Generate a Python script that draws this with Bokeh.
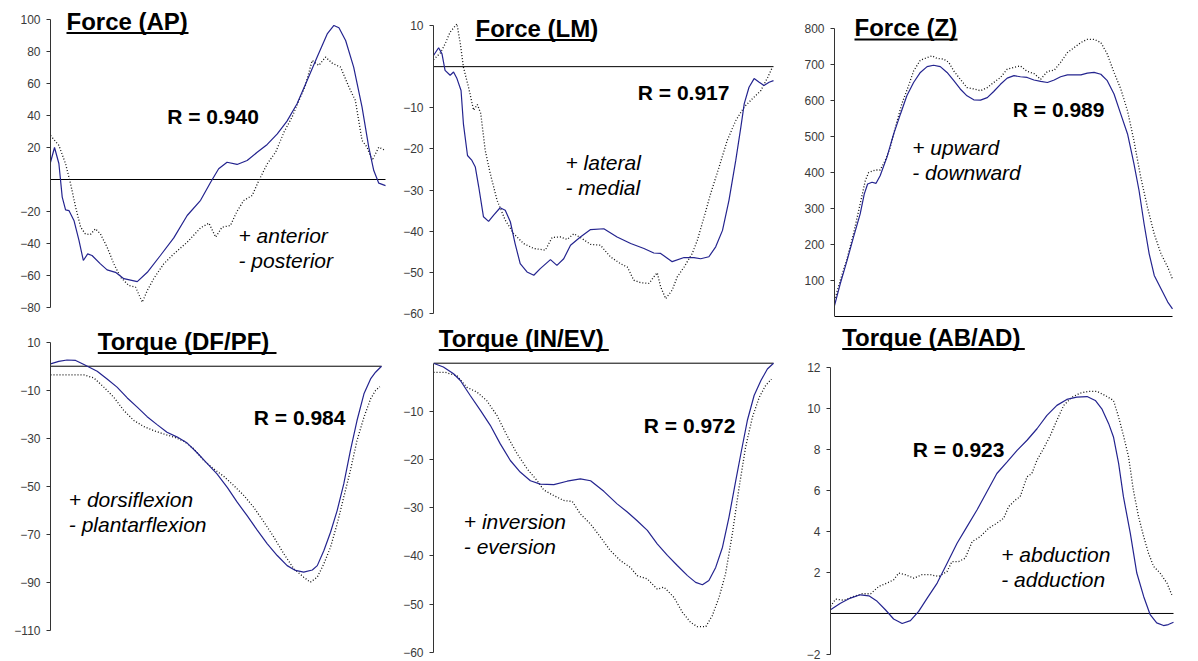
from bokeh.plotting import figure
from bokeh.models import Range1d, FixedTicker, Label, BoxAnnotation
from bokeh.layouts import row, column
from bokeh.embed import file_html
from bokeh.resources import INLINE

# ---------------- data (x = % of stance) ----------------
AP_blue_x = [0, 1.2, 2.5, 3.5, 4.5, 5.5, 7, 8.5, 9.8, 11.1, 12.4, 14.9, 16.9, 19.4, 21.9, 25.9, 28.9, 32.8, 36.8, 40.8,
             44.8, 47.8, 50.2, 52.7, 55.7, 58.7, 61.7, 64.7, 67.7, 70.6, 73.6, 76.6, 79.6, 82.6, 84.6, 86.1, 88.1, 90.5, 93, 95,
             96.5, 98, 100]
AP_blue_y = [10.8, 20, 10, -11, -19, -19.4, -25.6, -38, -50.6, -46.5, -47.5, -52.7, -56.5, -58, -62, -63.8, -58, -47.5, -36.5, -22.5,
             -13, -1.7, 6.7, 10.8, 9.4, 11.9, 17, 21.9, 28.5, 36.5, 47.3, 61.9, 76.5, 91, 96.3, 94.8, 86.9, 70.2, 45.2, 20.2,
             5.6, -2.3, -3.8]
AP_dot_x = [0, 2.5, 4.5, 6, 7.5, 9, 10.4, 11.9, 13.4, 14.9, 16.9, 18.9, 20.9, 23.4, 25.4, 27.4, 28.9, 30.8, 33.8, 36.8,
            40.8, 44.8, 47.3, 49.3, 51.2, 53.7, 55.7, 57.7, 60.2, 62.2, 64.7, 67.2, 69.7, 72.1, 74.6, 76.1, 78.1, 80.1, 82.1, 84.1,
            86.6, 89.1, 91, 93, 94.5, 96, 98, 100]
AP_dot_y = [27.5, 21.3, 9.8, -2.7, -17.3, -29.8, -34, -34.4, -30.8, -34, -42.3, -52.7, -61, -66.3, -67.3, -76.7, -69.4, -62, -52.7, -46.5,
            -39.2, -30.2, -27.3, -36, -29.8, -28.8, -19.8, -13.1, -10, -0.6, 9.8, 17.1, 29.6, 39, 51.5, 58.8, 74.4, 71.3, 76.5, 72.7,
            70.2, 57.7, 49.4, 24.4, 20.2, 11.9, 20.2, 18.1]

LM_blue_x = [0, 1.5, 2.5, 3.4, 4.9, 5.9, 6.9, 8.1, 8.8, 10, 11.3, 12.3, 13.3, 14.7, 16.2, 17.7, 19.6, 21.1, 22.6, 24,
             25.5, 27.5, 29.5, 31.4, 34.4, 36.3, 38.3, 40.3, 43.2, 46.2, 50.1, 54, 58, 61.9, 64.8, 66.8, 70.2, 73.7, 76.6, 78.6,
             81, 83, 85, 86.9, 88.9, 90.4, 91.4, 92.8, 94.3, 95.8, 97.2, 98.7, 100]
LM_blue_y = [2.7, 4.6, 3.1, -0.9, -2.1, -1.3, -2.9, -5.8, -13.9, -21.6, -22.8, -24.4, -29.2, -36.5, -37.6, -36.1, -34.3, -34.9, -37.7, -43,
             -47.9, -49.9, -50.7, -49.1, -46.9, -48.3, -46.7, -43.4, -41.4, -39.6, -39.4, -41.4, -43, -44.2, -45.3, -45.4, -47.4, -46.4, -46.4, -46.7,
             -46.2, -43.8, -39.8, -32.5, -22.8, -14.7, -9, -5, -2.9, -3.8, -4.6, -3.8, -3.4]
LM_dot_x = [0, 2, 3.4, 4.9, 6.9, 7.9, 8.8, 10.3, 11.8, 12.9, 13.9, 15.2, 16.7, 18.7, 21.1, 23.6, 26.5, 29.5, 32.9, 34.9,
            37.3, 39.3, 41.3, 43.7, 46.2, 49.1, 52, 55, 57, 58.9, 60.9, 63.4, 64.8, 65.8, 66.8, 68.3, 70.2, 71.7, 73.7, 76.1,
            77.6, 79.6, 81.5, 84, 86.4, 88.9, 91.4, 93.8, 96.3, 98.3, 99.7]
LM_dot_y = [1.7, 3.3, 5.5, 8.4, 10.4, 5.5, -0.1, -5, -10.6, -9.2, -11.4, -20.3, -26, -32.5, -37.3, -40.6, -43, -44.2, -44.6, -41.5,
            -41.4, -42, -40.6, -41.8, -43.2, -43.4, -46.2, -47.9, -48.7, -51.9, -52.5, -52.7, -51.1, -50.1, -53.5, -56.4, -54.3, -51.1, -48.7, -45.4,
            -42.2, -36.5, -30.9, -24.4, -17.9, -13.1, -9.8, -7.8, -5.8, -2.6, -0.1]

Z_blue_x = [0, 1.7, 3.7, 5.6, 7.6, 8.8, 9.8, 11.1, 12.3, 13.5, 15.5, 17.5, 19.5, 21.4, 23.4, 25.4, 27.4, 29.3, 31.3, 33.3,
            35.3, 37.2, 39.2, 41.2, 43.2, 45.2, 47.1, 49.1, 51.1, 53.1, 55, 57, 59, 61, 63, 65, 66.9, 68.9, 70.9, 72.9,
            74.8, 76.8, 78.8, 80.7, 82.7, 84.7, 86.7, 88.6, 90.1, 91.6, 93.1, 94.6, 96.6, 98.6, 100]
Z_blue_y = [30, 91, 155, 220, 285, 340, 368, 373, 370, 391, 442, 507, 562, 613, 650, 678, 694, 698, 694, 678,
            655, 632, 613, 602, 601, 608, 625, 645, 662, 669, 666, 664, 657, 653, 650, 657, 666, 671, 671, 671,
            676, 678, 673, 655, 618, 562, 507, 424, 350, 257, 174, 114, 77, 40, 21]
Z_dot_x = [0, 1.7, 3.7, 5.6, 7.6, 9.1, 10.1, 12.1, 13.5, 15, 16.5, 18, 19.9, 21.9, 23.4, 25.4, 27.4, 28.9, 30.3, 32.3,
           33.8, 35.3, 37.2, 39.2, 41.2, 43.2, 45.2, 47.1, 49.1, 51.1, 53.1, 55, 57, 59, 61, 63, 65, 66.9, 68.9, 70.9,
           72.9, 74.8, 76.8, 78.8, 80.7, 82.7, 84.7, 86.7, 88.6, 90.6, 92.6, 94.6, 96.6, 98.6, 100]
Z_dot_y = [44, 100, 160, 229, 313, 377, 400, 407, 407, 433, 470, 525, 590, 641, 682, 712, 719, 724, 717, 715,
           706, 682, 659, 636, 632, 627, 636, 650, 664, 687, 692, 696, 681, 675, 659, 681, 684, 706, 733, 747,
           761, 770, 770, 761, 729, 678, 632, 571, 488, 387, 303, 229, 174, 137, 104]

DF_blue_x = [0, 2.5, 5, 7.6, 10.1, 14.1, 17.1, 20.1, 23.2, 26.2, 29.2, 32.2, 35.2, 38.3, 41.3, 44.3, 47.3, 50.3, 53.4, 56.4,
             59.4, 62.4, 65.5, 68.5, 71.5, 74, 76.5, 79.1, 80.6, 82.6, 84.6, 86.6, 88.6, 90.6, 92.6, 94.7, 96.7, 98.2, 100]
DF_blue_y = [1, 2, 2.6, 2.4, 0.7, -2.1, -5.3, -8.7, -13.2, -17, -21, -24.3, -27.5, -29.5, -32, -36, -40.4, -44.8, -50.4, -56.6,
             -62.2, -68.1, -73.9, -78.8, -83, -85, -85.7, -84.8, -83, -76.7, -69.1, -60.1, -49, -35.1, -22.6, -11.5, -5.3, -2.5, 0]
DF_dot_x = [0, 5, 10.1, 13.1, 16.1, 19.1, 22.2, 25.2, 28.2, 31.2, 34.2, 37.3, 40.3, 43.3, 46.3, 49.3, 52.4, 55.4, 58.4, 61.4,
            64.5, 67.5, 70.5, 73.5, 76.5, 78.5, 80.6, 82.6, 84.6, 86.6, 88.6, 90.6, 92.6, 94.7, 96.7, 98.2, 99.5]
DF_dot_y = [-3.6, -3.6, -3.6, -4.9, -8.7, -12.9, -18.5, -22.6, -25.1, -26.8, -28.2, -29.5, -31.2, -34.4, -39.2, -42.7, -45.9, -49.7, -53.8, -58.7,
            -64.9, -71.2, -78.1, -84.3, -87.8, -89.9, -87.8, -82.2, -75.3, -65.6, -54.5, -43.4, -30.9, -21.2, -13.6, -10.1, -8.5]

IE_blue_x = [0, 2.9, 5.9, 7.9, 10.8, 13.8, 16.7, 19.6, 22.6, 25.5, 28.5, 31.4, 35.4, 39.3, 43.2, 46.2, 50.1, 54, 57, 59.9,
             62.9, 65.8, 68.8, 71.7, 74.7, 77.1, 79.1, 81, 83, 85, 86.9, 88.9, 90.4, 92.3, 94.3, 96.3, 98.2, 100]
IE_blue_y = [0, -0.8, -2.2, -3.6, -6.7, -9.8, -12.9, -16.7, -20.2, -22.6, -24.4, -25.1, -25.2, -24.5, -24, -24.4, -26.6, -29.2, -30.9, -32.7,
             -34.7, -37.5, -39.9, -42, -44.1, -45.5, -46, -45.1, -42.4, -38.2, -32, -24.4, -18.8, -11.9, -6.7, -3.6, -1.2, 0]
IE_dot_x = [0, 3.4, 6.9, 9.8, 12.8, 15.7, 18.7, 21.6, 24.6, 27.5, 30.5, 32.4, 35.4, 38.3, 40.8, 43.2, 46.2, 49.1, 52, 55,
            57.9, 59.9, 62.9, 65.8, 67.8, 70.7, 73.2, 75.6, 77.6, 80.1, 82, 84, 85.9, 87.9, 89.9, 91.8, 93.8, 95.8, 97.7, 99.4]
IE_dot_y = [-1.9, -1.9, -2.6, -5, -6, -7.8, -10.9, -15, -18.8, -21.9, -24.4, -26.3, -27.5, -28.5, -28.7, -31.3, -33.4, -36.1, -38.9, -41,
            -42.4, -44.1, -44.8, -46.9, -46.5, -48.6, -51.7, -53.8, -54.7, -54.7, -52.4, -48.6, -43.7, -35.4, -25.7, -17.4, -11.2, -7.1, -4.6, -3.3]

AA_blue_x = [0, 2.9, 5.8, 8.7, 11.2, 13.6, 16, 18.4, 20.9, 23.3, 25.7, 28.2, 31.1, 34, 36.9, 39.8, 42.7, 45.6, 48.5, 51.5,
             54.4, 57.3, 60.2, 63.1, 66, 68.9, 71.8, 74.8, 77.2, 79.1, 81.1, 82.5, 84, 85.4, 87.4, 89.3, 91.3, 93.2, 95.1, 97.1,
             98.5, 100]
AA_blue_y = [0.18, 0.5, 0.75, 0.91, 0.86, 0.59, 0.18, -0.27, -0.49, -0.35, 0.1, 0.75, 1.48, 2.45, 3.42, 4.23, 5.04, 5.93, 6.82, 7.39,
             7.95, 8.44, 9, 9.65, 10.14, 10.43, 10.54, 10.57, 10.38, 9.97, 9.25, 8.6, 7.31, 5.69, 3.91, 1.97, 0.83, -0.06, -0.46, -0.59,
             -0.54, -0.43]
AA_dot_x = [0, 1.5, 3.9, 6.3, 9.2, 11.7, 14.1, 16.5, 18.4, 19.9, 21.8, 24.3, 26.7, 29.1, 31.6, 34, 35.4, 37.4, 39.3, 41.3,
            43.7, 46.1, 48.5, 50.5, 51.9, 53.9, 55.3, 57.3, 58.7, 60.2, 62.1, 64.1, 66, 68, 70.4, 72.8, 75.2, 77.7, 80.1, 82.5,
            84, 85.4, 86.9, 88.3, 89.8, 91.3, 92.7, 94.2, 96.1, 98.1, 99.5]
AA_dot_y = [0.35, 0.7, 0.64, 0.8, 0.96, 0.96, 1.32, 1.48, 1.64, 1.97, 1.89, 1.72, 1.89, 1.89, 1.8, 2.05, 2.53, 2.53, 2.7, 3.5,
            3.75, 4.15, 4.4, 4.64, 5.2, 5.53, 5.69, 6.66, 6.82, 7.47, 8.03, 8.68, 9.41, 10.14, 10.54, 10.74, 10.82, 10.82, 10.62, 10.38,
            9.57, 8.68, 7.63, 6.01, 4.72, 3.75, 2.94, 2.29, 1.97, 1.48, 0.91]

titles = ["Force (AP)", "Force (LM)", "Force (Z)", "Torque (DF/PF)", "Torque (IN/EV)", "Torque (AB/AD)"]
r_texts = ["R = 0.940", "R = 0.917", "R = 0.989", "R = 0.984", "R = 0.972", "R = 0.923"]
ann_plus = ["+ anterior", "+ lateral", "+ upward", "+ dorsiflexion", "+ inversion", "+ abduction"]
ann_minus = ["- posterior", "- medial", "- downward", "- plantarflexion", "- eversion", "- adduction"]
y_ticks = [
    [-80, -60, -40, -20, 20, 40, 60, 80, 100],
    [-60, -50, -40, -30, -20, -10, 10],
    [100, 200, 300, 400, 500, 600, 700, 800],
    [-110, -90, -70, -50, -30, -10, 10],
    [-60, -50, -40, -30, -20, -10],
    [-2, 2, 4, 6, 8, 10, 12],
]
y_limits = [(-80, 100), (-60, 10), (0, 800), (-110, 10), (-60, 0), (-2, 12)]
series = [
    (AP_blue_x, AP_blue_y, AP_dot_x, AP_dot_y),
    (LM_blue_x, LM_blue_y, LM_dot_x, LM_dot_y),
    (Z_blue_x, Z_blue_y, Z_dot_x, Z_dot_y),
    (DF_blue_x, DF_blue_y, DF_dot_x, DF_dot_y),
    (IE_blue_x, IE_blue_y, IE_dot_x, IE_dot_y),
    (AA_blue_x, AA_blue_y, AA_dot_x, AA_dot_y),
]
for bx, by_, dx, dy in series:
    assert len(bx) == len(by_), (len(bx), len(by_))
    assert len(dx) == len(dy), (len(dx), len(dy))

# ---------------- layout (page pixel positions) ----------------
# x0, y0, W, H : figure box; ax, xr : axis x / data right; ty, by : axis top / bottom
geom = [
    dict(x0=0, y0=0, W=400, H=321, ax=50, xr=385, ty=19, by=307,
         title=(66, 28.5, 188), r=(166.7, 124.3), ann=(238, 242.5, 267.5)),
    dict(x0=400, y0=0, W=390, H=321, ax=433, xr=773, ty=25, by=313,
         title=(475, 35.5, 594), r=(637.3, 100), ann=(565, 170, 195)),
    dict(x0=790, y0=0, W=406, H=321, ax=834, xr=1172, ty=28, by=316,
         title=(854, 35, 957), r=(1012.3, 117.3), ann=(911.7, 155, 180)),
    dict(x0=0, y0=321, W=400, H=340, ax=50, xr=381, ty=341.7, by=630,
         title=(97.3, 348.5, 276), r=(253.3, 425), ann=(68.3, 506.7, 531.7)),
    dict(x0=400, y0=321, W=390, H=340, ax=433, xr=773, ty=362.7, by=651.7,
         title=(438.3, 345.5, 608.3), r=(643.3, 432.7), ann=(463.3, 529.3, 554.3)),
    dict(x0=790, y0=321, W=406, H=340, ax=830, xr=1173, ty=366.7, by=654,
         title=(841.7, 344.5, 1024.3), r=(912.3, 456.7), ann=(1000.7, 561.7, 586.7)),
]

FONT = "Liberation Sans"
BLUE = "#24248f"
LABEL_DY = 8  # rendered alphabetic baseline sits this much below the requested y


def make_panel(i):
    g = geom[i]
    vmin, vmax = y_limits[i]
    bx, byv, dx, dyv = series[i]
    L = g["ax"] - g["x0"]
    FW = g["W"] - L
    pxper = (g["xr"] - g["ax"]) / 100.0
    x_end = FW / pxper
    ty = g["ty"] - g["y0"]
    bt = g["by"] - g["y0"]
    s = (bt - ty) / (vmax - vmin)
    y_end = vmax + ty / s
    y_start = vmin - (g["H"] - bt) / s

    p = figure(width=g["W"], height=g["H"], x_range=Range1d(0, x_end), y_range=Range1d(y_start, y_end),
               x_axis_location=None, toolbar_location=None, output_backend="svg",
               min_border_left=L, min_border_right=0, min_border_top=0, min_border_bottom=0,
               outline_line_color=None, background_fill_color="white", border_fill_color="white")
    p.xgrid.visible = False
    p.ygrid.visible = False
    yax = p.yaxis[0]
    yax.bounds = (vmin, vmax)
    yax.ticker = FixedTicker(ticks=y_ticks[i])
    yax.minor_tick_line_color = None
    yax.major_tick_in = 0
    yax.major_tick_out = 4
    yax.major_label_standoff = 6
    yax.axis_line_color = "#333333"
    yax.major_tick_line_color = "#333333"
    yax.major_label_text_font = FONT
    yax.major_label_text_font_size = "12px"
    yax.major_label_text_color = "#3a3a3a"

    xmin = min(bx[0], dx[0])
    xmax = max(bx[-1], dx[-1])
    p.line([xmin, xmax], [0, 0], line_color="black", line_width=1)
    p.line(dx, dyv, line_color="#111111", line_width=1.3, line_dash="1 2")
    p.line(bx, byv, line_color=BLUE, line_width=1.2)

    def sx(X):
        return X - g["ax"]

    def sy(Y):
        return (g["y0"] + g["H"]) - Y

    def lab(X, Y, text, style, size):
        return Label(x=sx(X), y=sy(Y - LABEL_DY), x_units="screen", y_units="screen", text=text,
                     text_font=FONT, text_font_style=style, text_font_size=size,
                     text_baseline="alphabetic", text_align="left", text_color="black")

    tx, tb, tr = g["title"]
    p.add_layout(lab(tx, tb, titles[i], "bold", "24px"))
    p.add_layout(BoxAnnotation(left=sx(tx), right=sx(tr), top=sy(tb + 3), bottom=sy(tb + 5),
                               left_units="screen", right_units="screen", top_units="screen", bottom_units="screen",
                               fill_color="black", fill_alpha=1.0, line_color=None))
    rx, rb = g["r"]
    p.add_layout(lab(rx, rb, r_texts[i], "bold", "21px"))
    axx, a1, a2 = g["ann"]
    p.add_layout(lab(axx, a1, ann_plus[i], "italic", "21px"))
    p.add_layout(lab(axx, a2, ann_minus[i], "italic", "21px"))
    return p


figs = [make_panel(i) for i in range(6)]
layout = column(row(figs[0], figs[1], figs[2]), row(figs[3], figs[4], figs[5]))

open("out.html", "w").write(file_html(layout, INLINE))
